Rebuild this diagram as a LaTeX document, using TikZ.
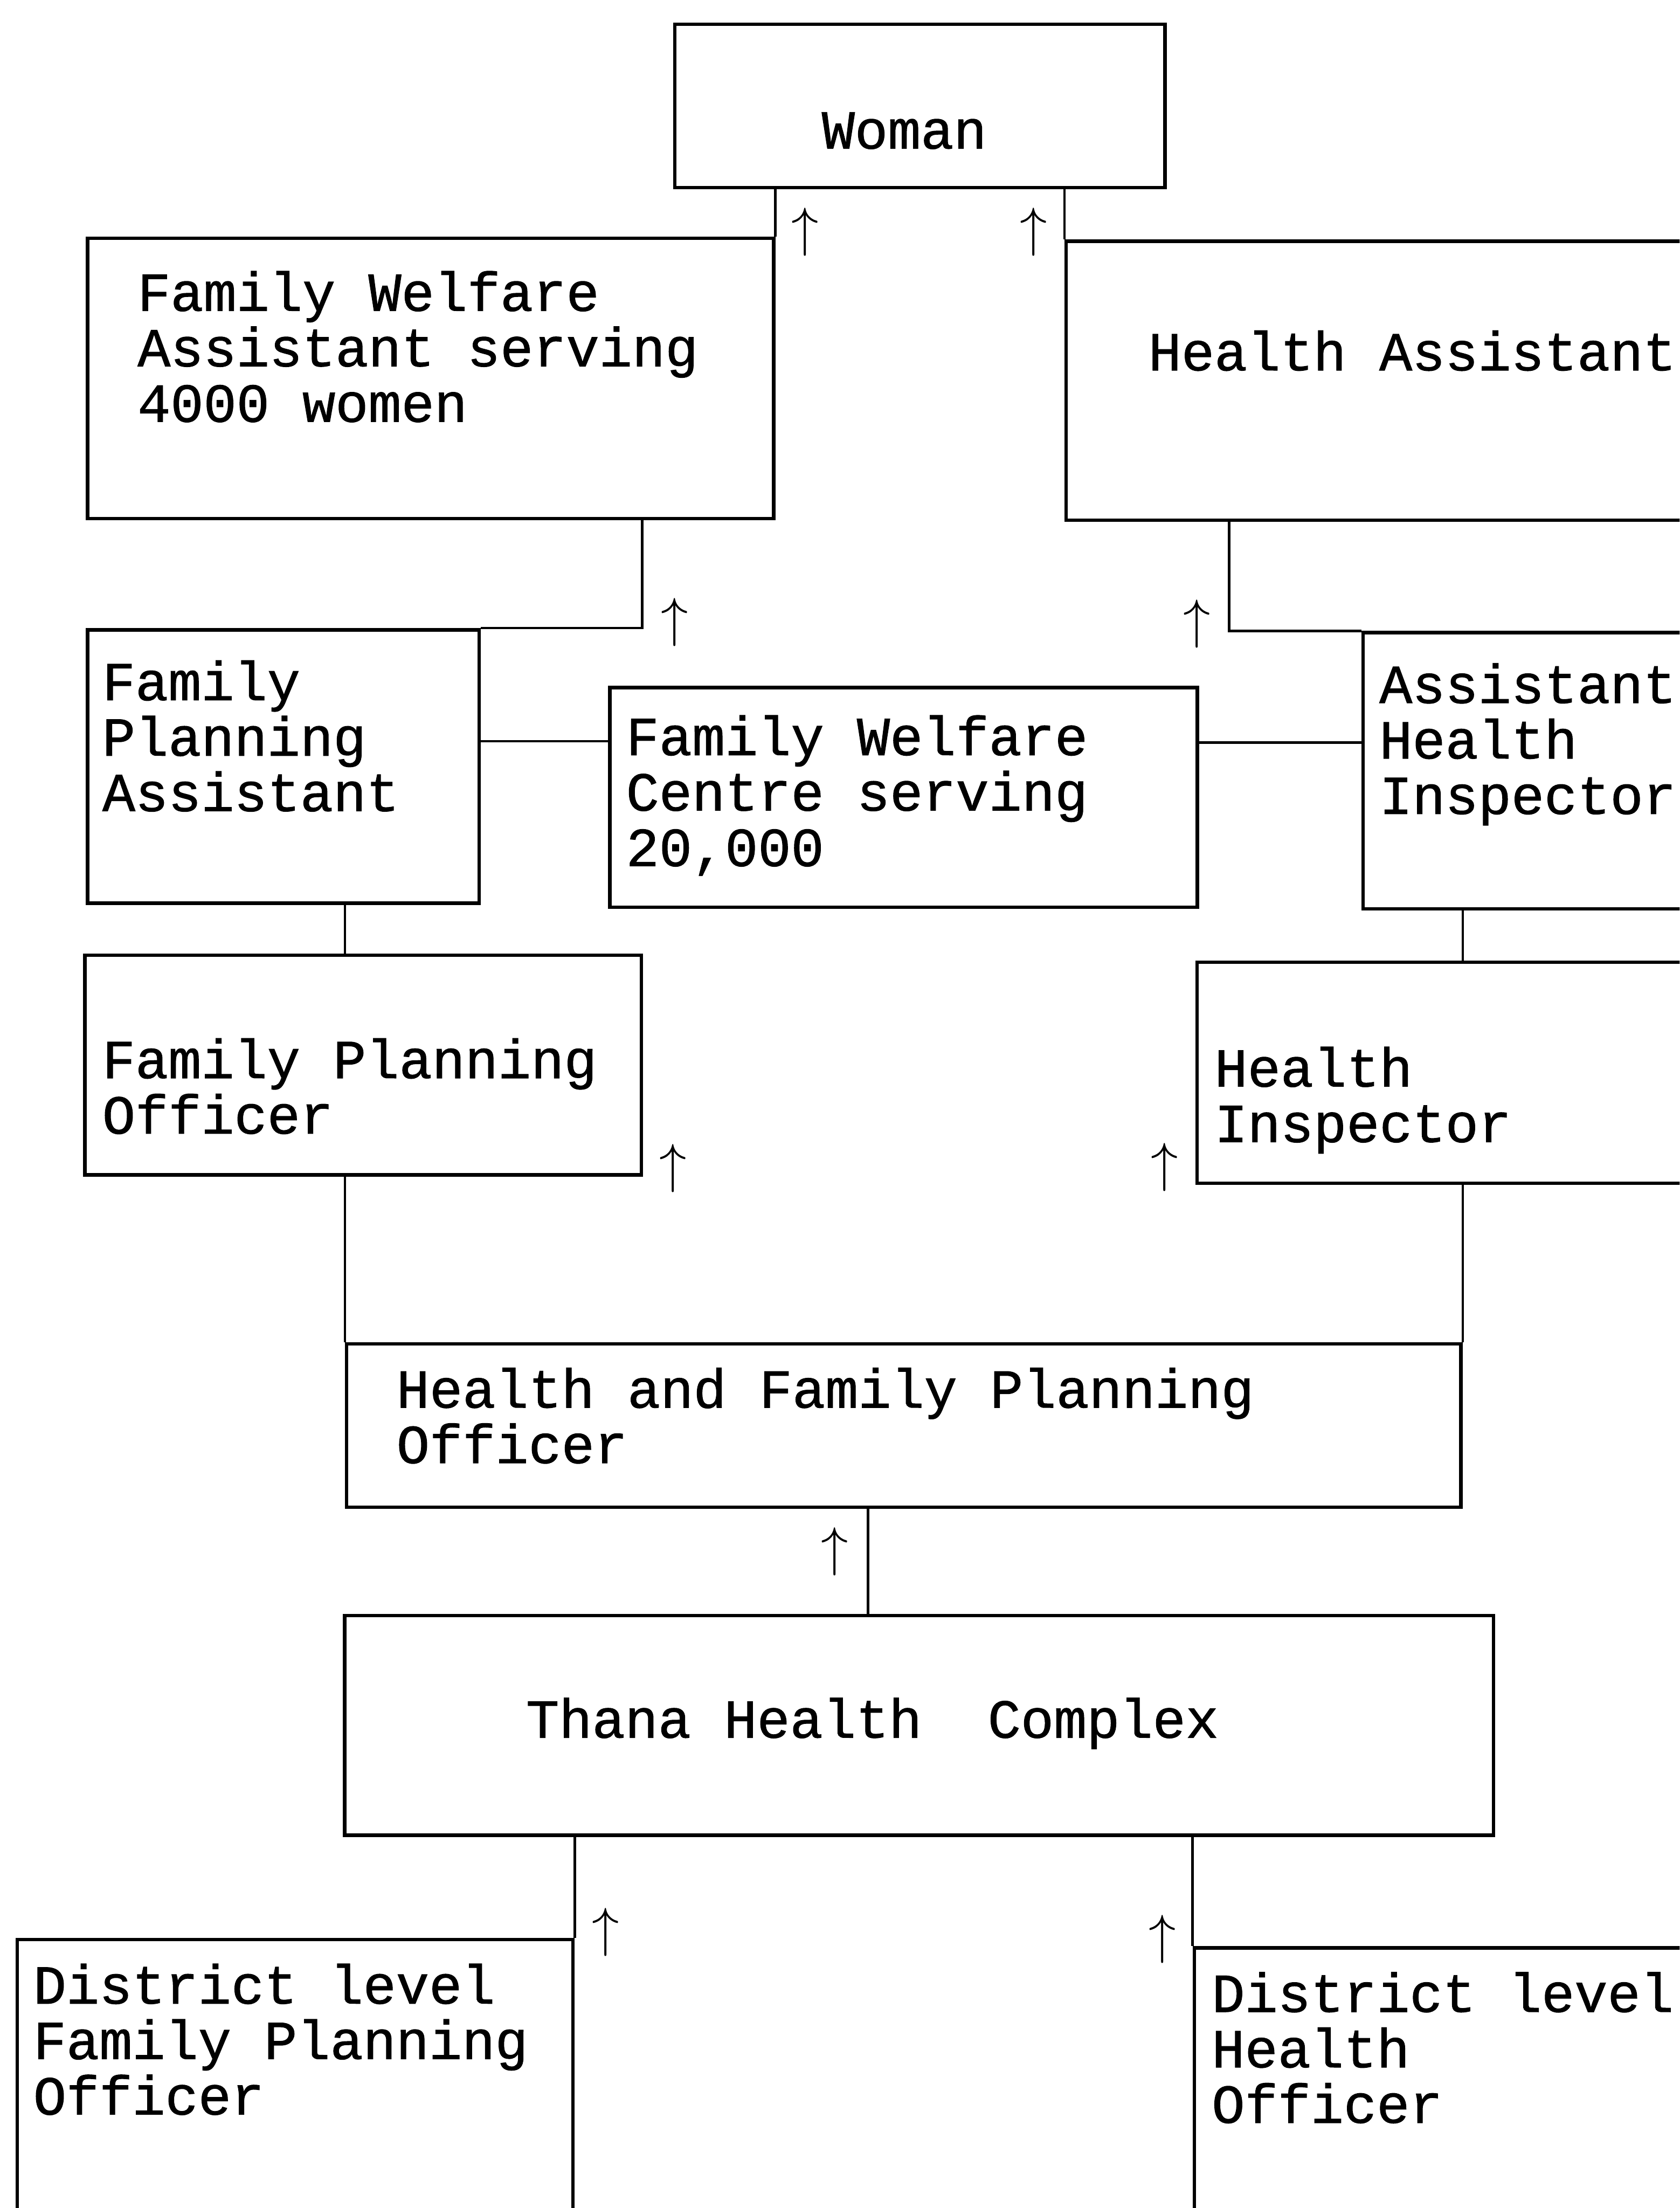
\documentclass[tikz,border=0pt]{standalone}
\usepackage{fontspec}
\setmainfont[FakeBold=1]{Liberation Mono}
\usepackage{tikz}
\tikzset{
    box/.style={
           rectangle,
           draw=black, line width=0.7pt,
           inner sep=0pt,
           anchor=north west,
           },
    lbl/.style={
           anchor=base west,   % base = last line
           align=left,
           inner sep=0pt,
           font=\fontsize{11.1}{11.2}\selectfont,
           },
    uparr/.style={
           inner sep=0pt,
           font=\fontsize{11.1}{11.2}\selectfont,
           },
    link/.style={line width=0.5pt},
}

\begin{document}
\begin{tikzpicture}[x=0.01cm, y=-0.01cm]
    \useasboundingbox (0,0) rectangle (1193,1568);
    \clip (0,0) rectangle (1193,1568);

    % top: the woman and the two field workers
    \node[box, minimum width=3.48cm, minimum height=1.16cm] (woman) at (478,16) {};
    \node[box, minimum width=4.87cm, minimum height=1.99cm] (fwa) at (61,168) {};
    \node[box, minimum width=4.80cm, minimum height=1.98cm] (ha) at (756,170) {};

    % second row
    \node[box, minimum width=2.78cm, minimum height=1.94cm] (fpa) at (61,446) {};
    \node[box, minimum width=4.17cm, minimum height=1.56cm] (fwc) at (432,487) {};
    \node[box, minimum width=2.70cm, minimum height=1.96cm] (ahi) at (967,448) {};

    % third row
    \node[box, minimum width=3.95cm, minimum height=1.56cm] (fpo) at (59,677) {};
    \node[box, minimum width=3.90cm, minimum height=1.57cm] (hi) at (849,682) {};

    % thana level
    \node[box, minimum width=7.91cm, minimum height=1.16cm] (hfpo) at (245,953) {};
    \node[box, minimum width=8.155cm, minimum height=1.56cm] (thc) at (243.5,1146) {};

    % district level (run off the page)
    \node[box, minimum width=3.945cm, minimum height=2.50cm] (dfpo) at (11,1376) {};
    \node[box, minimum width=3.90cm, minimum height=2.50cm] (dho) at (847,1382) {};

    % texts
    \node[lbl] (woman-t) at (583,105.5) {Woman};
    \node[lbl] (fwa-t) at (97,299.5) {Family Welfare\\Assistant serving\\4000 women};
    \node[lbl] (ha-t) at (815,263) {Health Assistant};
    \node[lbl] (fpa-t) at (72,576) {Family\\Planning\\Assistant};
    \node[lbl] (fwc-t) at (444,615) {Family Welfare\\Centre serving\\20,000};
    \node[lbl] (ahi-t) at (979,578) {Assistant\\Health\\Inspector};
    \node[lbl] (fpo-t) at (72,805) {Family Planning\\Officer};
    \node[lbl] (hi-t) at (862,811) {Health\\Inspector};
    \node[lbl] (hfpo-t) at (281,1039) {Health and Family Planning\\Officer};
    \node[lbl] (thc-t) at (373,1234) {Thana Health\ \ Complex};
    \node[lbl] (dfpo-t) at (23,1501.6) {District level\\Family Planning\\Officer};
    \node[lbl] (dho-t) at (860,1507.5) {District level\\Health\\Officer};

    % connectors
    \draw[link] (woman.south -| fwa.north east) -- (fwa.north east);
    \draw[link] (woman.south -| ha.north west) -- (ha.north west);
    \draw[link] (fpa.north east) -| ([xshift=3.95cm]fwa.south west);
    \draw[link] ([xshift=1.17cm]ha.south west) |- (ahi.north west);
    \draw[link] ([yshift=0.18cm]fpa.east) -- ([yshift=0.18cm]fpa.east -| fwc.west);
    \draw[link] ([yshift=0.20cm]ahi.west) -- ([yshift=0.20cm]ahi.west -| fwc.east);
    \draw[link] (hfpo.north west |- fpa.south) -- (hfpo.north west |- fpo.north);
    \draw[link] (hfpo.north west |- fpo.south) -- (hfpo.north west);
    \draw[link] (hfpo.north east |- ahi.south) -- (hfpo.north east |- hi.north);
    \draw[link] (hfpo.north east |- hi.south) -- (hfpo.north east);
    \draw[link] ([xshift=-0.255cm]hfpo.south) -- ([xshift=-0.255cm]hfpo.south |- thc.north);
    \draw[link] (dfpo.north east |- thc.south) -- (dfpo.north east);
    \draw[link] (dho.north west |- thc.south) -- (dho.north west);

    % arrows
    \node[uparr] (a1) at (571.6,164.6) {$\uparrow$};
    \node[uparr] (a2) at (734,164.6) {$\uparrow$};
    \node[uparr] (a3) at (479,442) {$\uparrow$};
    \node[uparr] (a4) at (850,443) {$\uparrow$};
    \node[uparr] (a5) at (478,829.5) {$\uparrow$};
    \node[uparr] (a6) at (827,829) {$\uparrow$};
    \node[uparr] (a7) at (593,1102) {$\uparrow$};
    \node[uparr] (a8) at (430,1372) {$\uparrow$};
    \node[uparr] (a9) at (825.4,1377) {$\uparrow$};
\end{tikzpicture}
\end{document}
